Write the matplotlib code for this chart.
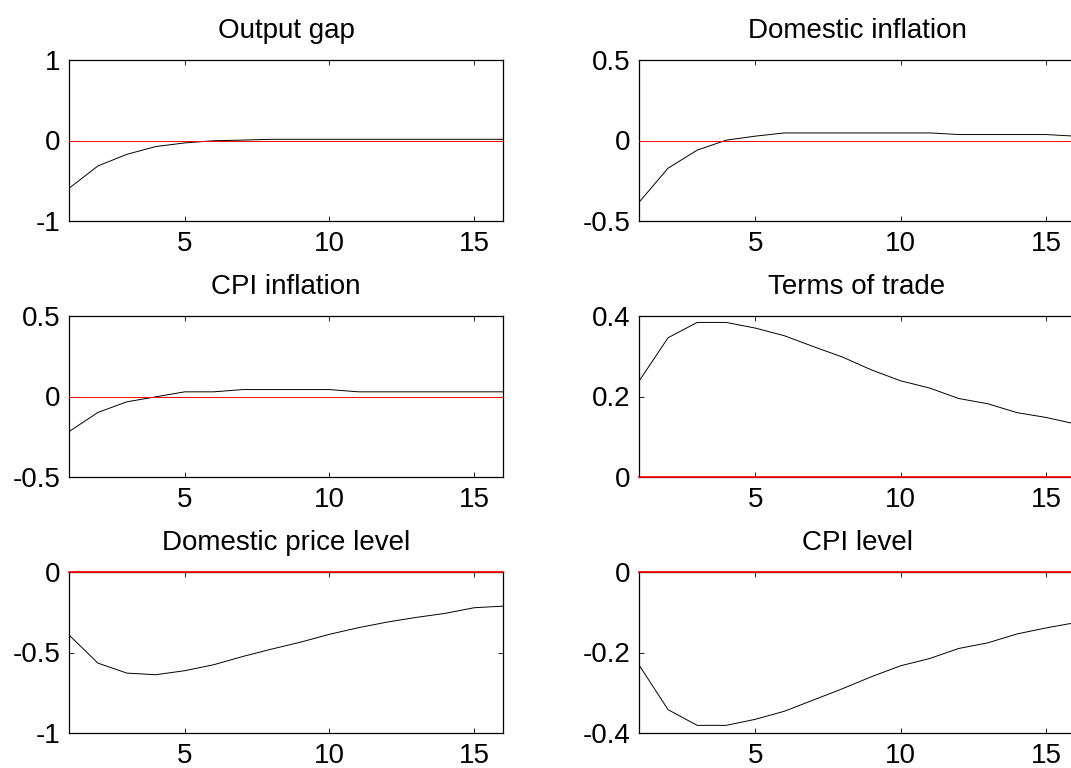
import numpy as np
import matplotlib
matplotlib.use('Agg')
import matplotlib.pyplot as plt

plt.rcParams['font.family'] = ['Liberation Sans', 'DejaVu Sans']
plt.rcParams['axes.unicode_minus'] = False

# impulse responses, quarters 1..16
periods = np.arange(1, 17)

output_gap = [-0.594, -0.316, -0.172, -0.075, -0.03, -0.003, 0.005, 0.015,
              0.015, 0.015, 0.015, 0.015, 0.015, 0.015, 0.015, 0.015]
dom_infl = [-0.384, -0.172, -0.06, 0.002, 0.027, 0.047, 0.047, 0.047,
            0.047, 0.047, 0.047, 0.037, 0.037, 0.037, 0.037, 0.027]
cpi_infl = [-0.218, -0.099, -0.033, -0.002, 0.029, 0.029, 0.043, 0.043,
            0.043, 0.043, 0.029, 0.029, 0.029, 0.029, 0.029, 0.029]
tot = [0.238, 0.346, 0.384, 0.384, 0.370, 0.351, 0.324, 0.298,
       0.266, 0.239, 0.221, 0.195, 0.182, 0.160, 0.148, 0.132]
dom_price = [-0.391, -0.566, -0.628, -0.638, -0.613, -0.576, -0.525, -0.479,
             -0.436, -0.387, -0.346, -0.311, -0.282, -0.257, -0.222, -0.212]
cpi_level = [-0.231, -0.342, -0.381, -0.381, -0.366, -0.346, -0.318, -0.290,
             -0.260, -0.233, -0.215, -0.190, -0.176, -0.154, -0.139, -0.126]

titles = ['Output gap', 'Domestic inflation', 'CPI inflation',
          'Terms of trade', 'Domestic price level', 'CPI level']
series = [output_gap, dom_infl, cpi_infl, tot, dom_price, cpi_level]
ylims = [(-1, 1), (-0.5, 0.5), (-0.5, 0.5), (0, 0.4), (-1, 0), (-0.4, 0)]
yticks = [[-1, 0, 1], [-0.5, 0, 0.5], [-0.5, 0, 0.5], [0, 0.2, 0.4],
          [-1, -0.5, 0], [-0.4, -0.2, 0]]
yticklabels = [['-1', '0', '1'], ['-0.5', '0', '0.5'], ['-0.5', '0', '0.5'],
               ['0', '0.2', '0.4'], ['-1', '-0.5', '0'], ['-0.4', '-0.2', '0']]

W, H = 1071, 768
fig = plt.figure(figsize=(W / 100, H / 100), dpi=100)

col_left = [69, 639]
col_width = [434, 436]
row_top = [60, 316, 572]
row_h = 161
fs = 20

for k in range(6):
    r, c = divmod(k, 2)
    ax = fig.add_axes([col_left[c] / W, 1 - (row_top[r] + row_h) / H,
                       col_width[c] / W, row_h / H])
    ax.plot(periods, series[k], color='k', lw=0.7, zorder=2)
    # zero reference line; drawn over the frame where 0 is an axis limit
    on_edge = 0 in ylims[k]
    ax.plot(periods, np.zeros(len(periods)), color='red',
            lw=1.2 if on_edge else 0.7, zorder=3, clip_on=False)
    ax.set_xlim(1, 16)
    ax.set_ylim(*ylims[k])
    ax.set_xticks([5, 10, 15])
    ax.set_xticklabels(['5', '10', '15'])
    ax.set_yticks(yticks[k])
    ax.set_yticklabels(yticklabels[k])
    ax.tick_params(direction='in', length=3.5, width=0.6, labelsize=fs,
                   top=True, right=(c == 0), colors='k')
    ax.tick_params(axis='x', pad=7)
    ax.tick_params(axis='y', pad=6)
    for s in ax.spines.values():
        s.set_linewidth(0.9)
    ax.set_title(titles[k], fontsize=fs, pad=16)

fig.savefig('out.png', dpi=100)
